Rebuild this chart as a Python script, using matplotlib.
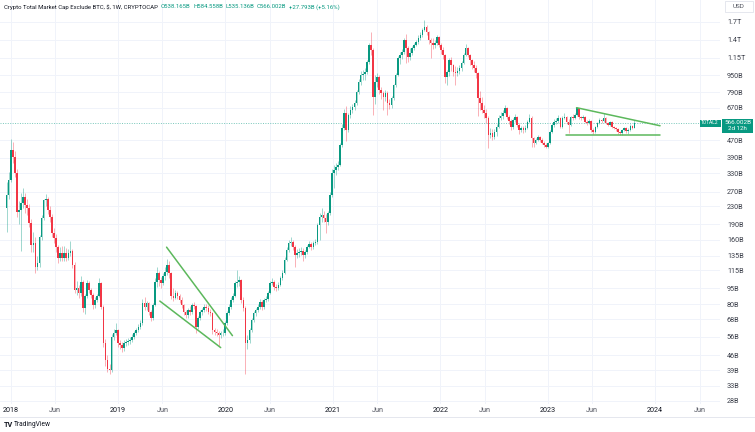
import matplotlib
matplotlib.use('Agg')
import matplotlib.pyplot as plt
import matplotlib.dates as mdates
from matplotlib.ticker import NullLocator
from matplotlib.patches import Rectangle
from matplotlib.lines import Line2D
import numpy as np
import pandas as pd

plt.rcParams['font.family'] = ['Roboto', 'DejaVu Sans']

# ---------------- data (weekly candles, values in billions USD) ----------------
first_week = '2017-12-18'
first_open = 226

closes = [
    261, 307, 424, 393, 331, 217, 221, 239, 255, 234,
    226, 192, 152, 155, 119.5, 124.8, 165, 203, 247, 250,
    221, 205, 172.6, 163.5, 148.3, 131.7, 139, 132, 139, 132,
    139, 142, 122, 93.1, 95.2, 90.1, 101.6, 76.7, 87.2, 100.5,
    93.1, 88.2, 79.2, 83.6, 87.2, 100.5, 77.5, 52.5, 43.6, 39.5,
    39.0, 56, 58.5, 60.4, 52.5, 51.3, 49.7, 52.5, 53.1, 53.6,
    54.2, 56, 58.5, 60.4, 62.4, 65.1, 80.9, 77.5, 80.9, 73.4,
    68.8, 79.2, 101.6, 111.9, 103.8, 100.5, 108.3, 113.2, 122, 111.9,
    87.2, 85.4, 90.1, 87.2, 83.6, 79.2, 73.4, 71, 75, 73.4,
    79.2, 78.3, 62.4, 68.8, 73.4, 75, 77.5, 76.7, 73.4, 72.6,
    60.4, 59.1, 58.5, 57.2, 58.5, 58.7, 65.1, 72.6, 77.5, 83.6,
    87.2, 100.5, 101.6, 103.8, 83.6, 76.7, 52.5, 54.2, 60.4, 67.3,
    72.6, 75, 77.5, 81.8, 77.5, 83.6, 84, 90.1, 100.5, 101.6,
    96.2, 95.2, 98.3, 106, 111.9, 128.9, 143.6, 154.9, 156.6, 148.3,
    136, 139, 140.5, 142, 136, 140.5, 148.3, 153.3, 148.3, 154.9,
    156.6, 188.2, 205, 209.7, 203, 194.5, 214.3, 260.6, 331, 341.7,
    352.9, 360.5, 447.6, 538, 632.9, 526.6, 619, 653.8, 675.3, 705.2,
    794.6, 885.4, 954.6, 965, 986, 1099, 1321, 1252, 752.4, 885,
    934.4, 811.7, 785.7, 752, 786, 705, 689.9, 744.3, 856.5, 955,
    1148, 1186, 1225, 1395, 1279, 1160.6, 1212, 1279, 1321, 1365.7,
    1425, 1471.6, 1554, 1605, 1521, 1395, 1350, 1321, 1350, 1440.6,
    1321, 1252, 1186, 934, 986.8, 1123, 1063.5, 987, 976, 997,
    1030, 1087, 1186, 1279, 1186, 1123, 1064, 1030, 976, 744,
    705, 654, 633, 599.5, 498.7, 509.8, 488.2, 515.5, 544, 599.5,
    612.6, 633, 668, 606, 580.4, 544, 586.8, 606, 555.7, 526.6,
    538, 526.6, 538, 574.4, 599.5, 482.9, 457.5, 472.6, 488.2, 472.6,
    457.5, 447.6, 438.1, 457.5, 515.5, 555.7, 574.4, 580.4, 599.5, 544,
    599.5, 606, 574, 556, 606, 600, 619, 668, 606, 600,
    606, 574, 568, 580, 527, 515.5, 544, 568, 587, 580,
    600, 568, 556, 574, 544, 538, 532.3, 515.5, 509.8, 526.6,
    538, 520.9, 526.6, 549.8, 538.165, 566.002,
]

highs = [
    300, 335, 475, 460, 420, 345, 245, 265, 280, 265,
    250, 235, 200, 175, 165, 135, 168, 210, 250, 262,
    255, 232, 212, 182, 170, 152, 148, 150, 150, 146,
    145, 158, 145, 126, 103, 98, 108, 104, 89, 104,
    103, 95, 90, 86, 89, 106, 101, 79, 55, 46,
    42, 58, 61, 65, 61, 54, 53, 54, 55, 55.5,
    56, 58, 60, 62, 64.5, 67, 84, 86, 83, 82,
    75, 81, 106, 120, 114, 107, 112, 119, 130, 128,
    113, 95, 93, 92, 89, 86, 80, 75, 77, 78,
    81, 82, 79, 70, 75, 77, 80, 80, 79, 75.5,
    73.5, 62, 61, 60, 60, 61, 66.5, 74, 80, 86,
    90, 103, 115, 108, 105, 86, 78, 57, 62, 69,
    74.5, 77, 80, 84, 83.5, 85, 87, 92, 103, 106,
    104, 99, 101, 108, 115, 133, 148, 160, 166, 160,
    151, 145, 146, 148, 146, 144, 152, 158, 157, 158,
    161, 192, 215, 225, 218, 212, 220, 268, 345, 360,
    370, 375, 455, 560, 660, 680, 630, 680, 700, 725,
    810, 910, 1000, 1010, 1030, 1120, 1350, 1515, 1280, 950,
    980, 950, 840, 800, 810, 800, 740, 760, 870, 975,
    1170, 1230, 1260, 1430, 1480, 1300, 1280, 1300, 1350, 1400,
    1470, 1520, 1590, 1740, 1640, 1540, 1420, 1420, 1400, 1470,
    1460, 1350, 1290, 1200, 1010, 1150, 1160, 1080, 1050, 1040,
    1060, 1110, 1210, 1330, 1290, 1200, 1140, 1110, 1060, 990,
    800, 750, 690, 660, 610, 540, 530, 530, 560, 620,
    640, 650, 690, 675, 620, 595, 600, 625, 615, 565,
    550, 548, 555, 585, 625, 610, 490, 480, 500, 495,
    480, 465, 455, 462, 525, 570, 590, 600, 620, 605,
    615, 630, 612, 590, 615, 625, 630, 672, 670, 615,
    620, 610, 585, 592, 585, 540, 552, 575, 600, 595,
    635, 605, 575, 580, 578, 552, 545, 538, 520, 532,
    545, 542, 535, 560, 556, 584.558,
]

lows = [
    175, 250, 300, 370, 315, 205, 190, 142, 225, 215,
    210, 185, 140, 140, 112, 115, 120, 160, 198, 230,
    212, 195, 165, 155, 140, 125, 127, 128, 128, 128,
    129, 134, 118, 90, 88, 85, 87, 73, 72, 85,
    90, 85, 76, 77, 82, 86, 76, 50, 41, 38.5,
    37.6, 38.5, 54, 57, 50, 49, 47.5, 48, 51, 51.5,
    52, 53, 55, 57.5, 59, 61, 64, 75, 75, 71,
    66.5, 67, 78, 96, 97, 95, 98, 104, 110, 106,
    84, 83, 84, 84, 81, 77, 71, 68.5, 69, 71,
    72, 76, 58.5, 61, 67, 71, 73, 74.5, 71.5, 70,
    58, 57, 56.5, 51, 55.5, 56.5, 57.5, 64, 71, 76,
    82, 86, 96, 97, 81, 74, 37.5, 49, 52.5, 59,
    66, 70.5, 73, 76, 75, 76, 81.5, 82.5, 89, 98,
    93, 92, 93, 97, 104, 110.5, 127, 141, 150, 143,
    120, 131, 133, 136, 128, 132, 138, 146, 143, 145,
    151, 154, 160, 195, 195, 172, 188, 210, 255, 282,
    325, 340, 355, 440, 525, 468, 515, 600, 630, 650,
    690, 780, 860, 900, 900, 960, 1080, 1180, 620, 700,
    840, 780, 740, 650, 720, 620, 660, 670, 730, 840,
    940, 1080, 1140, 1200, 1090, 1100, 1120, 1180, 1250, 1300,
    1340, 1400, 1440, 1530, 1470, 1330, 1145, 1260, 1280, 1320,
    1290, 1200, 1130, 880, 860, 940, 1000, 940, 857, 940,
    960, 1000, 1070, 1170, 1160, 1060, 1020, 990, 920, 610,
    650, 630, 600, 570, 435, 480, 470, 475, 495, 535,
    585, 595, 625, 590, 560, 525, 530, 575, 545, 505,
    515, 512, 515, 530, 565, 440, 440, 450, 465, 460,
    450, 440, 432, 435, 452, 510, 545, 560, 570, 535,
    540, 590, 560, 512, 550, 585, 590, 612, 595, 585,
    590, 565, 555, 562, 515, 505, 510, 538, 560, 570,
    572, 560, 548, 550, 538, 530, 522, 505, 500, 500,
    518, 510, 505, 520, 530, 535.136,
]

price_ticks = [1700, 1400, 1150, 950, 790, 670, 470, 390, 330, 270, 230, 190,
               160, 135, 115, 95, 80, 68, 56, 46, 39, 33, 28]
price_tick_labels = ['1.7T', '1.4T', '1.15T', '950B', '790B', '670B', '470B', '390B',
                     '330B', '270B', '230B', '190B', '160B', '135B', '115B', '95B',
                     '80B', '68B', '56B', '46B', '39B', '33B', '28B']

time_ticks = ['2018-01-01', '2018-06-01', '2019-01-01', '2019-06-01', '2020-01-01',
              '2020-06-01', '2021-01-01', '2021-06-01', '2022-01-01', '2022-06-01',
              '2023-01-01', '2023-06-01', '2024-01-01', '2024-06-01']
time_tick_labels = ['2018', 'Jun', '2019', 'Jun', '2020', 'Jun', '2021', 'Jun',
                    '2022', 'Jun', '2023', 'Jun', '2024', 'Jun']

wedge_upper_dates = ['2019-06-15', '2020-01-25']
wedge_upper_vals = [148, 56.8]
wedge_lower_dates = ['2019-05-23', '2019-12-16']
wedge_lower_vals = [82.6, 49.9]
tri_upper_dates = ['2023-04-09', '2024-01-18']
tri_upper_vals = [670, 551]
tri_lower_dates = ['2023-03-04', '2024-01-18']
tri_lower_vals = [498, 498]

last_price = 566.002
header_title = 'Crypto Total Market Cap Exclude BTC, $, 1W, CRYPTOCAP'
header_ohlc = ['O538.165B', 'H584.558B', 'L535.136B', 'C566.002B', '+27.793B (+5.16%)']

# ---------------- figure ----------------
W, H = 755, 432
fig = plt.figure(figsize=(W / 100, H / 100), dpi=100)
fig.patch.set_facecolor('white')
ax = fig.add_axes([0, 28 / H, 720 / W, 404 / H])
ax.set_facecolor('white')

UP = '#089981'
DOWN = '#F23645'

dates = pd.date_range(first_week, periods=len(closes), freq='7D')
x = mdates.date2num(dates)
C = np.array(closes, dtype=float)
O = np.array([first_open] + closes[:-1], dtype=float)
Hh = np.array(highs, dtype=float)
Ll = np.array(lows, dtype=float)
up = C >= O
cols = np.where(up, UP, DOWN)

ax.set_yscale('log')
ax.vlines(x, Ll, Hh, colors=cols, linewidth=0.6, alpha=0.45, zorder=3)
ax.bar(x, np.abs(C - O), bottom=np.minimum(O, C), width=5.5, color=cols,
       linewidth=0, zorder=4)

# trend lines
tl = '#5cb85c'
for d, v in [(wedge_upper_dates, wedge_upper_vals), (wedge_lower_dates, wedge_lower_vals),
             (tri_upper_dates, tri_upper_vals), (tri_lower_dates, tri_lower_vals)]:
    ax.plot(mdates.date2num(pd.to_datetime(d)), v, color=tl, lw=1.1, zorder=5,
            solid_capstyle='round')

# last price line
ax.axhline(last_price, color=UP, lw=0.7, ls=(0, (1, 1.5)), alpha=0.55, zorder=2)

# limits
base = mdates.date2num(pd.Timestamp('2018-01-01'))
ax.set_xlim(base - 36.4, base + 2411.8)
ax.set_ylim(27.1, 2149.6)

# ticks
ax.yaxis.tick_right()
ax.set_yticks(price_ticks)
ax.set_yticklabels(price_tick_labels)
ax.yaxis.set_minor_locator(NullLocator())
ax.tick_params(axis='y', length=0, pad=5, labelsize=5.2, labelcolor='#3b3f4a')
xt = mdates.date2num(pd.to_datetime(time_ticks))
ax.set_xticks(xt)
ax.set_xticklabels(time_tick_labels)
ax.tick_params(axis='x', length=0, pad=2.5, labelsize=5.2)
for lab in ax.get_xticklabels():
    if lab.get_text() == 'Jun':
        lab.set_color('#50535e')
    else:
        lab.set_color('#131722')
ax.grid(True, color='#f0f3fa', lw=0.7, zorder=0)
ax.set_axisbelow(True)
for s in ax.spines.values():
    s.set_visible(False)


def px_rect(x0, y0, x1, y1, fc, ec='none', lw=0):
    r = Rectangle((x0 / W, 1 - y1 / H), (x1 - x0) / W, (y1 - y0) / H,
                  transform=fig.transFigure, facecolor=fc, edgecolor=ec, lw=lw, zorder=10)
    fig.add_artist(r)


def px_text(xp, yp, s, **kw):
    return fig.text(xp / W, 1 - yp / H, s, **kw)


# price labels on axis
px_rect(699.5, 119.5, 720.5, 126.5, UP)
px_text(710, 123, 'TOTAL2', color='white', fontsize=3.5, ha='center', va='center', zorder=11)
px_rect(722, 118.5, 753, 133, UP)
px_text(737.5, 122.6, '566.002B', color='white', fontsize=4.6, ha='center', va='center', zorder=11)
px_text(737.5, 129.0, '2d 12h', color='white', fontsize=4.4, ha='center', va='center', zorder=11)

# USD box
px_rect(725, 1, 753, 12, 'white', ec='#e0e3eb', lw=0.6)
px_text(739, 6.5, 'USD', color='#50535e', fontsize=4.6, ha='center', va='center', zorder=11)

# header
fig.canvas.draw()
rend = fig.canvas.get_renderer()
t = px_text(4, 7, header_title, color='#131722', fontsize=4.3, ha='left', va='center', zorder=11)
bb = t.get_window_extent(renderer=rend)
xp = bb.x1 + 3
for s in header_ohlc:
    t = fig.text(xp / W, 1 - 7 / H, s, color=UP, fontsize=4.3, ha='left', va='center', zorder=11)
    bb = t.get_window_extent(renderer=rend)
    xp = bb.x1 + 2.5

# bottom separator & footer
fig.add_artist(Line2D([0, 1], [1 - 417 / H] * 2, transform=fig.transFigure,
                      color='#e0e3eb', lw=0.6))
px_text(3.5, 425, 'TV', color='#131722', fontsize=5.2, fontweight='bold', ha='left', va='center')
px_text(14, 425, 'TradingView', color='#131722', fontsize=4.8, ha='left', va='center')

fig.savefig('out.png', dpi=100, facecolor='white')
